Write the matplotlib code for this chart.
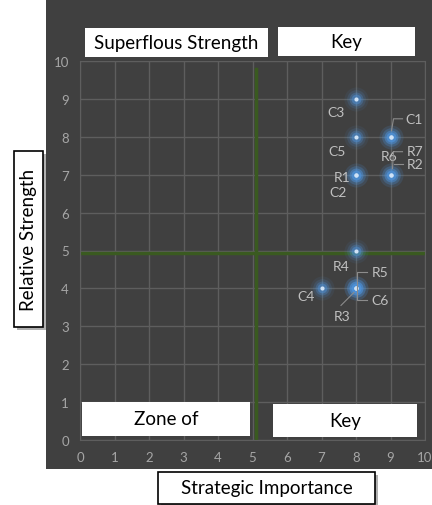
import matplotlib.pyplot as plt
from matplotlib.patches import Rectangle

# data
labels = ["C1", "C2", "C3", "C4", "C5", "C6", "R1", "R2", "R3", "R4", "R5", "R6", "R7"]
importance = [9, 8, 8, 7, 8, 8, 8, 9, 8, 8, 8, 9, 9]
strength = [8, 7, 9, 4, 8, 4, 7, 7, 4, 5, 4, 8, 7]
# label offsets in pixels (dx, dy), y up
label_offsets = {
    "C1": (24, 18), "C2": (-18, -17), "C3": (-20, -13), "C4": (-15, -8),
    "C5": (-19, -14), "C6": (24, -12), "R1": (-14, -2), "R2": (25, 11),
    "R3": (-14, -28), "R4": (-15, -16), "R5": (24, 16), "R6": (-1, -19),
    "R7": (25, 24),
}
x_ticks = list(range(0, 11))
y_ticks = list(range(0, 11))
v_split = 5.1
h_split = 4.93

W, H = 432, 506
plt.rcParams["font.family"] = ["Lato", "DejaVu Sans"]

fig = plt.figure(figsize=(W / 100, H / 100), dpi=100)
fig.patch.set_facecolor("white")


def px(x0, y0, x1, y1):
    # pixel box (top-left origin) -> figure fraction rect
    return (x0 / W, 1 - y1 / H, (x1 - x0) / W, (y1 - y0) / H)


# dark panel behind the chart
r = px(46, 0, 432, 470)
fig.patches.append(Rectangle(r[:2], r[2], r[3], transform=fig.transFigure,
                             facecolor="#404040", edgecolor="none", zorder=-5))

ax = fig.add_axes(px(80, 62, 425, 441))
ax.set_zorder(1)
ax.set_facecolor("#404040")
ax.set_xlim(0, 10)
ax.set_ylim(0, 10)
ax.set_xticks(x_ticks)
ax.set_yticks(y_ticks)
ax.grid(True, color="#5e5e5e", linewidth=1)
ax.set_axisbelow(True)
for s in ax.spines.values():
    s.set_color("#5e5e5e")
ax.tick_params(length=0, colors="#a6a6a6", labelsize=9.5, pad=8)

# quadrant dividers
ax.plot([v_split, v_split], [0, 9.8], color="#3a5a20", linewidth=2.5, zorder=2)
ax.plot([0, 10], [h_split, h_split], color="#3a5a20", linewidth=2.5, zorder=2)

# glowing markers
for size, alpha in [(300, 0.08), (180, 0.15), (100, 0.28), (50, 0.45)]:
    ax.scatter(importance, strength, s=size, color="#4f94dc", alpha=alpha,
               linewidths=0, zorder=3)
ax.scatter(importance, strength, s=9, color="#cfe2f6", linewidths=0, zorder=4)

for name, xv, yv in zip(labels, importance, strength):
    dx, dy = label_offsets[name]
    ax.annotate(name, (xv, yv), xytext=(dx, dy), textcoords="offset pixels",
                ha="center", va="center", fontsize=10, color="#bfbfbf", zorder=5)

# leader lines (pixel offsets from the anchored point)
def leader(xv, yv, pts):
    t = ax.transData.transform((xv, yv))
    xs, ys = [], []
    for dx, dy in pts:
        p = ax.transData.inverted().transform((t[0] + dx, t[1] + dy))
        xs.append(p[0])
        ys.append(p[1])
    ax.plot(xs, ys, color="#8c8c8c", linewidth=0.8, zorder=5)

leader(9, 8, [(1, 6), (3, 18), (12, 18)])
leader(9, 7, [(2, 6), (3, 23), (12, 23)])
leader(9, 7, [(3, 11), (12, 11)])
leader(8, 4, [(11, 16), (1, 16), (1, -12), (11, -12)])
leader(8, 4, [(-2, -4), (-15, -17)])


def text_box(box, text, size=13.5, edge="none", shadow=False, rotation=0):
    r = px(*box)
    if shadow:
        fig.patches.append(Rectangle((r[0] + 3 / W, r[1] - 3 / H), r[2], r[3],
                                     transform=fig.transFigure, facecolor="#b0b0b0",
                                     edgecolor="none", zorder=8))
    fig.patches.append(Rectangle(r[:2], r[2], r[3], transform=fig.transFigure,
                                 facecolor="white", edgecolor=edge, linewidth=1.2,
                                 zorder=9))
    fig.text(r[0] + r[2] / 2, r[1] + r[3] / 2, text, ha="center", va="center",
             fontsize=size, color="black", rotation=rotation, zorder=10)


text_box((85, 29, 268, 58), "Superflous Strength")
text_box((278, 28, 415, 57), "Key")
text_box((82, 403, 250, 437), "Zone of")
text_box((273, 405, 417, 438), "Key")
text_box((158, 473, 375, 505), "Strategic Importance", edge="black", shadow=True)
text_box((14, 152, 43, 328), "Relative Strength", edge="black", shadow=True, rotation=90)

fig.savefig("out.png", dpi=100)
